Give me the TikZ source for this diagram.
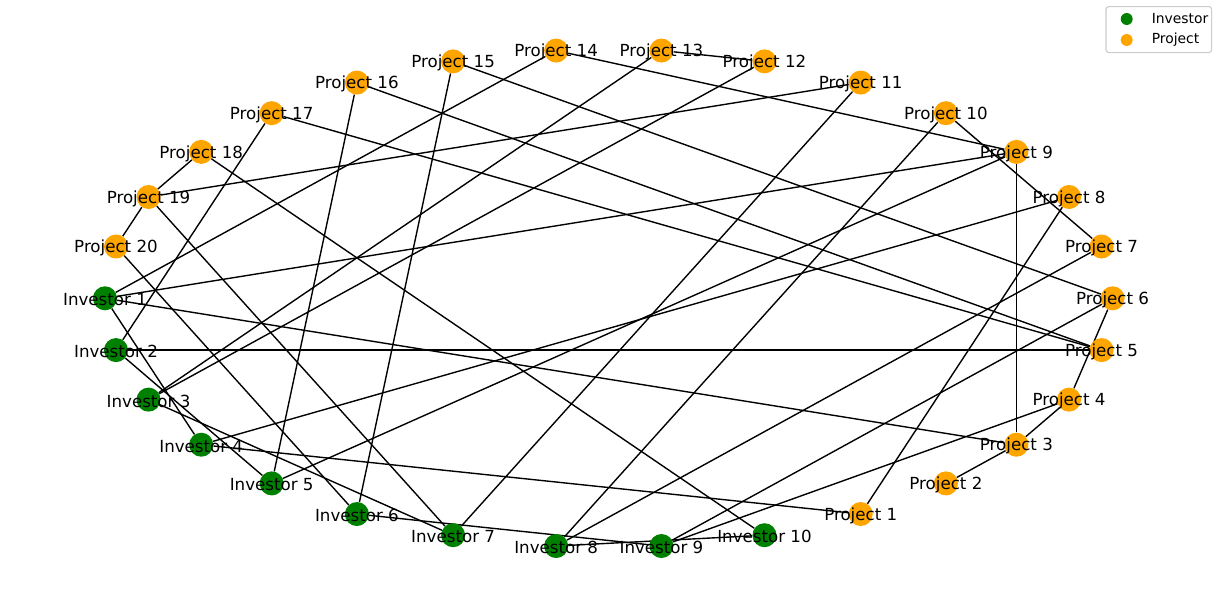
\documentclass[tikz,border=0pt]{standalone}
\usepackage{fontspec}
\setmainfont{DejaVu Sans}
\usetikzlibrary{backgrounds}
\definecolor{invgreen}{RGB}{0,128,0}
\definecolor{projorange}{RGB}{255,165,0}
\definecolor{legendgray}{RGB}{204,204,204}
\tikzset{
  inv/.style={circle, fill=invgreen, minimum size=17.3pt, inner sep=0pt},
  proj/.style={circle, fill=projorange, minimum size=17.3pt, inner sep=0pt},
  lbl/.style={font=\fontsize{12pt}{14pt}\selectfont, inner sep=0pt, yshift=-1.1pt},
  edge/.style={draw=black, line width=1pt},
  legendbox/.style={draw=legendgray, line width=0.8pt, fill=white, rounded corners=2pt,
    minimum width=76pt, minimum height=33.1pt, inner sep=0pt},
  legdot/.style={circle, minimum size=8.6pt, inner sep=0pt},
  legtxt/.style={font=\fontsize{10pt}{12pt}\selectfont, inner sep=0pt, anchor=west}
}
\begin{document}
\begin{tikzpicture}[x=0.72pt, y=-0.72pt]
\useasboundingbox (0,0) rectangle (1219,598);
% investor nodes
\foreach \i in {1,...,10} {
  \node[inv] (I\i) at ({608.8+503.8*cos(168+12*\i)}, {298.3-249.1*sin(168+12*\i)}) {};
}
% project nodes
\foreach \j in {1,...,20} {
  \node[proj] (P\j) at ({608.8+503.8*cos(288+12*\j)}, {298.3-249.1*sin(288+12*\j)}) {};
}
% labels
\foreach \i in {1,...,10} {
  \node[lbl] (lI\i) at (I\i) {Investor \i};
}
\foreach \j in {1,...,20} {
  \node[lbl] (lP\j) at (P\j) {Project \j};
}
% edges
\begin{pgfonlayer}{background}
\draw[edge] (I1) -- (P14);
\draw[edge] (I1) -- (P9);
\draw[edge] (I1) -- (P3);
\draw[edge] (I1) -- (I4);
\draw[edge] (I2) -- (P17);
\draw[edge] (I2) -- (P5);
\draw[edge] (I2) -- (I5);
\draw[edge] (I3) -- (P13);
\draw[edge] (I3) -- (P12);
\draw[edge] (I3) -- (I7);
\draw[edge] (I4) -- (P8);
\draw[edge] (I4) -- (P1);
\draw[edge] (I5) -- (P16);
\draw[edge] (I5) -- (P9);
\draw[edge] (I6) -- (P15);
\draw[edge] (I6) -- (P20);
\draw[edge] (I6) -- (I9);
\draw[edge] (I7) -- (P11);
\draw[edge] (I7) -- (P19);
\draw[edge] (I8) -- (P10);
\draw[edge] (I8) -- (P7);
\draw[edge] (I8) -- (I10);
\draw[edge] (I9) -- (P6);
\draw[edge] (I9) -- (P4);
\draw[edge] (I10) -- (P18);
\draw[edge] (P1) -- (P8);
\draw[edge] (P2) -- (P3);
\draw[edge] (P3) -- (P4);
\draw[edge] (P3) -- (P9);
\draw[edge] (P4) -- (P6);
\draw[edge] (P5) -- (P16);
\draw[edge] (P5) -- (P17);
\draw[edge] (P6) -- (P15);
\draw[edge] (P7) -- (P10);
\draw[edge] (P9) -- (P14);
\draw[edge] (P12) -- (P13);
\draw[edge] (P18) -- (P19);
\draw[edge] (P19) -- (P20);
\draw[edge] (P19) -- (P11);
\end{pgfonlayer}
% legend
\node[legendbox] (legend) at (1158.8,29.6) {};
\node[legdot, fill=invgreen] (lgI) at (1126.7,19) {};
\node[legtxt] (lgIt) at (1151.5,19) {Investor};
\node[legdot, fill=projorange] (lgP) at (1126.7,40) {};
\node[legtxt] (lgPt) at (1151.5,40) {Project};
\end{tikzpicture}
\end{document}
